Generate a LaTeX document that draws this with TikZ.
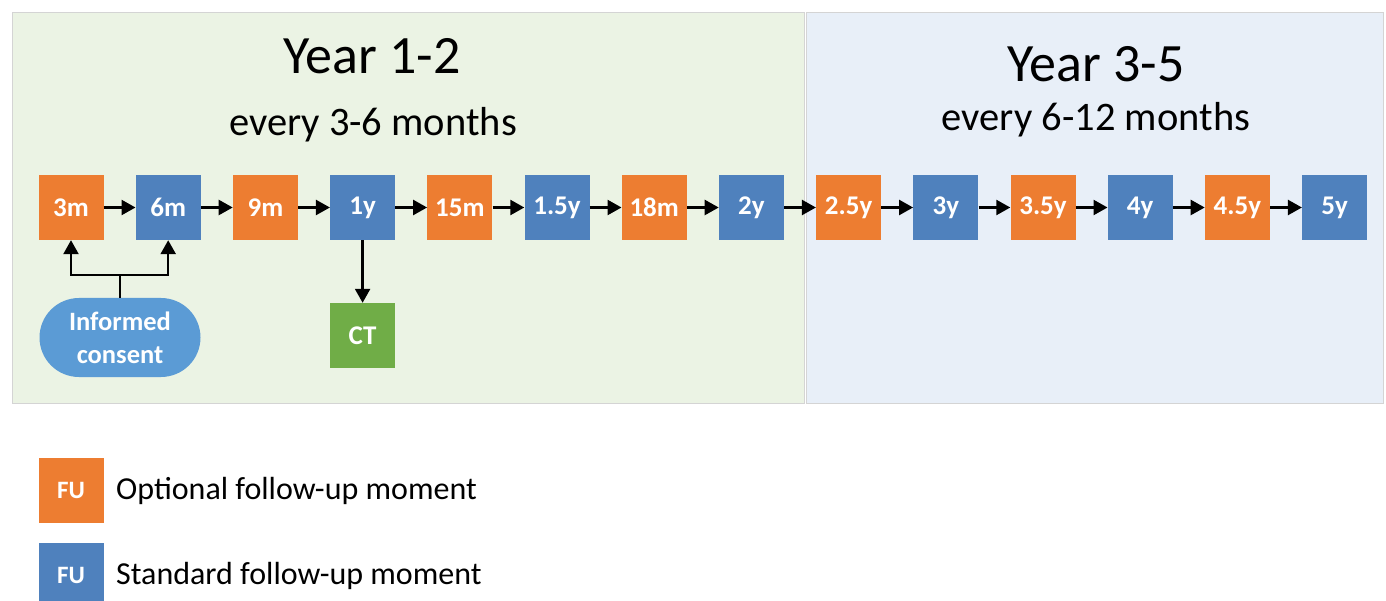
\documentclass[tikz,border=0pt]{standalone}
\usepackage{fontspec}
\setmainfont{Carlito}
\usetikzlibrary{arrows.meta,shapes.misc}
\definecolor{optc}{HTML}{ED7D31}
\definecolor{stdc}{HTML}{4F81BD}
\definecolor{ctc}{HTML}{70AD47}
\definecolor{icc}{HTML}{5B9BD5}
\definecolor{greenbg}{HTML}{EBF3E4}
\definecolor{bluebg}{HTML}{E8EFF8}
\definecolor{panelline}{HTML}{D4D4D4}
\tikzset{
  fubox/.style={draw=none, minimum width=65pt, minimum height=65pt, inner sep=0pt,
    text=white, font=\fontsize{27}{30}\selectfont\bfseries},
  opt/.style={fubox, fill=optc},
  std/.style={fubox, fill=stdc},
  ctbox/.style={fubox, fill=ctc},
  legbox/.style={font=\fontsize{25}{28}\selectfont\bfseries},
  conn/.style={line width=2.4pt, -{Triangle[length=14pt,width=15pt]}},
  panel/.style={draw=panelline, line width=1pt},
  title/.style={font=\fontsize{54}{60}\selectfont},
  sub/.style={font=\fontsize{40.5}{46}\selectfont},
  legtext/.style={font=\fontsize{32}{36}\selectfont, anchor=west, inner sep=0pt}
}
\begin{document}
\begin{tikzpicture}[x=1pt,y=-1pt]
\useasboundingbox (0,0) rectangle (1386,601);
\fill[white] (0,0) rectangle (1386,601);
\draw[panel, fill=greenbg] (12,13) rectangle (804,403);
\draw[panel, fill=bluebg] (806,13) rectangle (1383,403);
\node[title] (t1) at (372,56) {Year 1-2};
\node[sub] (s1) at (373,125) {every 3-6 months};
\node[title] (t2) at (1096,64) {Year 3-5};
\node[sub] (s2) at (1096,120) {every 6-12 months};
\node[opt] (b1) at (71,207.5) {3m};
\node[std] (b2) at (168.2,207.5) {6m};
\node[opt] (b3) at (265.4,207.5) {9m};
\node[std] (b4) at (362.6,207.5) {1y};
\node[opt] (b5) at (459.8,207.5) {15m};
\node[std] (b6) at (557,207.5) {1.5y};
\node[opt] (b7) at (654.2,207.5) {18m};
\node[std] (b8) at (751.4,207.5) {2y};
\node[opt] (b9) at (848.6,207.5) {2.5y};
\node[std] (b10) at (945.8,207.5) {3y};
\node[opt] (b11) at (1043,207.5) {3.5y};
\node[std] (b12) at (1140.2,207.5) {4y};
\node[opt] (b13) at (1237.4,207.5) {4.5y};
\node[std] (b14) at (1334.6,207.5) {5y};
\foreach \a/\b in {b1/b2,b2/b3,b3/b4,b4/b5,b5/b6,b6/b7,b7/b8,b8/b9,b9/b10,b10/b11,b11/b12,b12/b13,b13/b14}
  \draw[conn] (\a.east) -- (\b.west);
\node[ctbox] (ct) at (362.6,335.5) {CT};
\draw[conn] (b4.south) -- (ct.north);
\node[rounded rectangle, fill=icc, minimum width=161pt, minimum height=79pt, inner sep=0pt,
  text=white, font=\fontsize{26.5}{33}\selectfont\bfseries, align=center] (ic) at (120,337.5) {Informed\\consent};
\coordinate (split) at (120,275);
\draw[line width=2.4pt] (ic.north) -- (split);
\draw[conn] (split) -| (b1.south);
\draw[conn] (split) -| (b2.south);
\node[opt, legbox] (l1) at (71,490) {FU};
\node[std, legbox] (l2) at (71,575) {FU};
\node[legtext] (lt1) at (116,491) {Optional follow-up moment};
\node[legtext] (lt2) at (116,576) {Standard follow-up moment};
\end{tikzpicture}
\end{document}
